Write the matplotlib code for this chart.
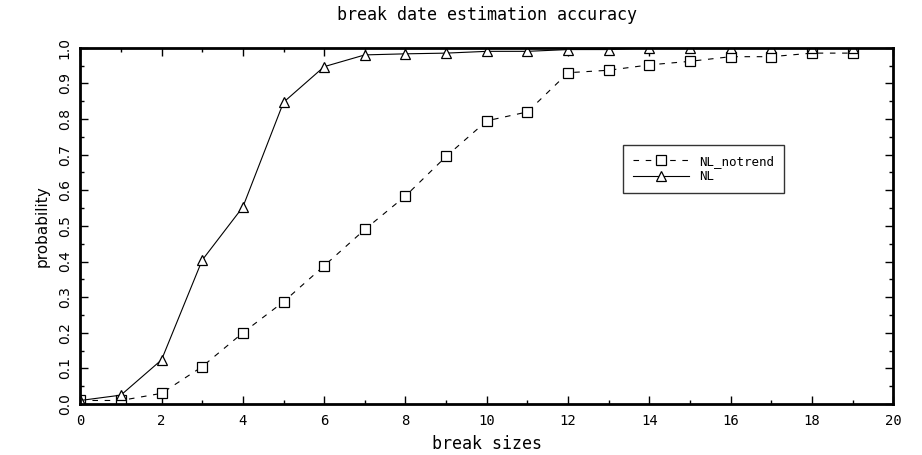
import numpy as np
import matplotlib
matplotlib.use("Agg")
import matplotlib.pyplot as plt
from matplotlib.ticker import MultipleLocator

# break sizes and estimated probabilities
break_sizes = [0, 1, 2, 3, 4, 5, 6, 7, 8, 9, 10, 11, 12, 13, 14, 15, 16, 17, 18, 19]
nl_notrend = [0.01, 0.01, 0.03, 0.105, 0.20, 0.287, 0.388, 0.49, 0.584, 0.695,
              0.795, 0.82, 0.93, 0.937, 0.952, 0.962, 0.975, 0.975, 0.985, 0.985]
nl = [0.01, 0.025, 0.124, 0.404, 0.553, 0.847, 0.947, 0.98, 0.983, 0.985,
      0.99, 0.99, 0.995, 0.995, 1.0, 1.0, 1.0, 1.0, 1.0, 1.0]
y_ticks = [0.0, 0.1, 0.2, 0.3, 0.4, 0.5, 0.6, 0.7, 0.8, 0.9, 1.0]

MONO = "DejaVu Sans Mono"
SANS = "DejaVu Sans"

fig = plt.figure(figsize=(9.22, 4.55), dpi=100)
ax = fig.add_axes([0.087, 0.112, 0.882, 0.783])

ax.plot(break_sizes, nl_notrend, color="black", linewidth=0.8,
        linestyle=(0, (5, 6)), marker="s", markersize=6.5,
        markerfacecolor="white", markeredgecolor="black", markeredgewidth=0.9,
        label="NL_notrend")
ax.plot(break_sizes, nl, color="black", linewidth=0.8, linestyle="-",
        marker="^", markersize=7.5,
        markerfacecolor="white", markeredgecolor="black", markeredgewidth=0.9,
        label="NL")

ax.set_xlim(0, 20)
ax.set_ylim(0, 1.0)
ax.xaxis.set_major_locator(MultipleLocator(2))
ax.xaxis.set_minor_locator(MultipleLocator(1))
ax.yaxis.set_minor_locator(MultipleLocator(0.05))
ax.tick_params(which="both", direction="in", top=True, right=True,
               color="black", width=1.0)
ax.tick_params(which="major", length=6)
ax.tick_params(which="minor", length=3)
ax.tick_params(axis="x", labelsize=10, pad=7)
ax.tick_params(axis="y", labelsize=10, pad=6)

for lab in ax.get_xticklabels():
    lab.set_family(MONO)
ax.set_yticks(y_ticks)
ax.set_yticklabels([f"{v:.1f}" for v in y_ticks],
                   rotation=90, va="center", family=SANS)

for spine in ax.spines.values():
    spine.set_linewidth(2.0)
    spine.set_color("black")

ax.set_title("break date estimation accuracy", family=MONO, fontsize=12,
             pad=20)
ax.set_xlabel("break sizes", family=MONO, fontsize=12, labelpad=5)
ax.set_ylabel("probability", family=SANS, fontsize=11, labelpad=6)

leg = ax.legend(loc="upper left", bbox_to_anchor=(0.667, 0.728),
                frameon=True, fancybox=False, edgecolor="black",
                prop={"family": MONO, "size": 9}, handlelength=4.5,
                borderpad=0.8, labelspacing=0.2, borderaxespad=0)
leg.get_frame().set_linewidth(1.0)

fig.savefig("out.png", dpi=100, facecolor="white")
